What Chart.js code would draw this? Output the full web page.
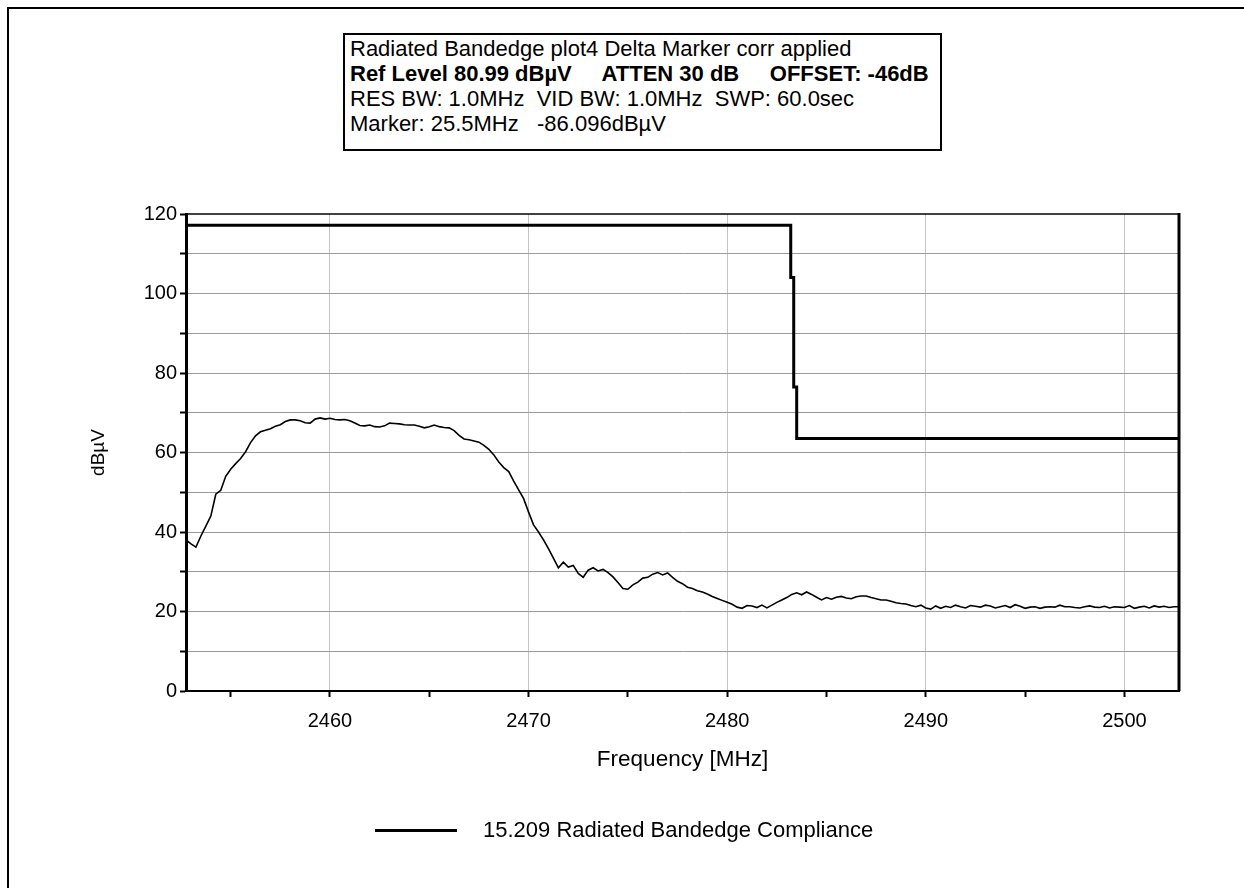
<!DOCTYPE html>
<html>
<head>
<meta charset="utf-8">
<title>Radiated Bandedge plot4</title>
<script src="https://cdn.jsdelivr.net/npm/chart.js@4"></script>
<style>
  html, body { margin: 0; padding: 0; background: #fff; }
  body { width: 1244px; height: 888px; position: relative; overflow: hidden;
         font-family: "Liberation Sans", Arial, sans-serif; color: #000; }
  #frame { position: absolute; left: 7px; top: 7px; width: 1300px; height: 950px;
           border-left: 2px solid #000; border-top: 2px solid #000; }
  #chartWrap { position: absolute; left: 0; top: 0; width: 1244px; height: 888px; }
  #infoBox { position: absolute; left: 343px; top: 33px; width: 590px; height: 113px;
             border: 2px solid #000; background: #fff; padding: 1px 0 0 5px; box-sizing: content-box;
             font-size: 22px; line-height: 25px; white-space: pre; }
  #infoBox .b { font-weight: bold; }
  #legend { position: absolute; left: 375px; top: 816px; height: 28px; display: flex; align-items: center;
            font-size: 22px; white-space: pre; }
  #legend .swatch { width: 82px; height: 3px; background: #000; margin-right: 26px; }
</style>
</head>
<body>
<div id="frame"></div>
<div id="chartWrap"><canvas id="myChart" width="1244" height="888"></canvas></div>
<div id="infoBox"><div>Radiated Bandedge plot4 Delta Marker corr applied</div><div class="b">Ref Level 80.99 dBµV     ATTEN 30 dB     OFFSET: -46dB</div><div>RES BW: 1.0MHz  VID BW: 1.0MHz  SWP: 60.0sec</div><div>Marker: 25.5MHz   -86.096dBµV</div></div>
<div id="legend"><div class="swatch"></div><span>15.209 Radiated Bandedge Compliance</span></div>
<script>
// analyzer sweep: 2452.75 .. 2502.75 MHz, one reading every 0.25 MHz
const sweepStart = 2452.75;
const sweepStop = 2502.75;
const sweepStep = 0.25;

// measured level, dBµV
const levels = [
  38.0, 37.0, 36.2, 39.0, 41.5, 44.0, 49.5, 50.5, 54.0, 55.8,
  57.2, 58.5, 60.2, 62.5, 64.2, 65.2, 65.6, 66.0, 66.6, 67.0,
  67.8, 68.2, 68.2, 68.0, 67.5, 67.4, 68.4, 68.7, 68.4, 68.6,
  68.3, 68.2, 68.3, 68.0, 67.4, 66.8, 66.7, 66.9, 66.5, 66.4,
  66.7, 67.4, 67.3, 67.2, 67.0, 66.9, 66.9, 66.6, 66.2, 66.5,
  66.9, 66.5, 66.3, 66.2, 65.5, 64.3, 63.4, 63.2, 62.9, 62.6,
  61.8, 60.8, 59.4, 57.6, 56.2, 55.2, 52.8, 50.6, 48.4, 45.0,
  41.8, 40.0, 38.0, 35.8, 33.4, 31.0, 32.4, 31.2, 31.6, 29.6,
  28.6, 30.4, 31.0, 30.2, 30.6, 29.8, 28.7, 27.3, 25.8, 25.6,
  26.7, 27.4, 28.4, 28.6, 29.4, 29.8, 29.2, 29.7, 28.6, 27.6,
  27.0, 26.1, 25.8, 25.2, 24.9, 24.4, 23.8, 23.3, 22.8, 22.3,
  21.8, 21.1, 20.8, 21.5, 21.4, 21.0, 21.6, 20.9, 21.6, 22.3,
  22.9, 23.5, 24.3, 24.7, 24.2, 24.9, 24.3, 23.6, 22.9, 23.5,
  23.1, 23.6, 23.8, 23.4, 23.2, 23.7, 23.9, 23.9, 23.5, 23.2,
  22.9, 22.9, 22.6, 22.2, 22.0, 21.9, 21.5, 21.2, 21.6, 20.9,
  20.6, 21.4, 20.8, 21.3, 21.0, 21.6, 21.2, 20.9, 21.5, 21.3,
  21.1, 21.6, 21.4, 20.9, 21.2, 21.5, 21.0, 21.7, 21.3, 20.8,
  21.1, 21.2, 20.8, 21.1, 21.2, 21.1, 21.6, 21.2, 21.2, 21.0,
  20.9, 21.2, 21.4, 21.1, 21.0, 21.3, 20.9, 21.2, 21.1, 21.0,
  21.5, 20.8, 21.1, 21.3, 20.9, 21.4, 21.1, 21.3, 21.0, 21.2,
  21.2
];

// 15.209 bandedge limit
const limitFreq = [2452.75, 2483.2, 2483.2, 2483.35, 2483.35, 2483.5, 2483.5, 2502.75];
const limitLevel = [117.2, 117.2, 104.0, 104.0, 76.5, 76.5, 63.5, 63.5];

const xTicks = [2455, 2460, 2465, 2470, 2475, 2480, 2485, 2490, 2495, 2500];
const xLabels = ['', '2460', '', '2470', '', '2480', '', '2490', '', '2500'];
const yTicks = [0, 10, 20, 30, 40, 50, 60, 70, 80, 90, 100, 110, 120];
const yLabels = ['0', '', '20', '', '40', '', '60', '', '80', '', '100', '', '120'];

const traceData = levels.map((v, i) => ({ x: sweepStart + i * sweepStep, y: v }));
const limitData = limitFreq.map((f, i) => ({ x: f, y: limitLevel[i] }));

const fontFamily = '"Liberation Sans", Arial, sans-serif';

// closes the plot box on the top and right
const frameEdges = {
  id: 'frameEdges',
  afterDatasetsDraw(chart) {
    const { ctx, chartArea: a } = chart;
    ctx.save();
    ctx.strokeStyle = '#000';
    ctx.lineWidth = 1.5;
    ctx.beginPath();
    ctx.moveTo(a.left, a.top);
    ctx.lineTo(a.right, a.top);
    ctx.stroke();
    ctx.lineWidth = 3;
    ctx.beginPath();
    ctx.moveTo(a.right, a.top - 1);
    ctx.lineTo(a.right, a.bottom);
    ctx.stroke();
    ctx.restore();
  }
};

const ctx = document.getElementById('myChart').getContext('2d');
const myChart = new Chart(ctx, {
  type: 'line',
  data: {
    datasets: [
      {
        label: '15.209 Radiated Bandedge Compliance',
        data: limitData,
        borderColor: '#000',
        borderWidth: 3,
        pointRadius: 0,
        tension: 0
      },
      {
        label: 'Trace',
        data: traceData,
        borderColor: '#000',
        borderWidth: 1.6,
        pointRadius: 0,
        tension: 0
      }
    ]
  },
  options: {
    responsive: false,
    animation: false,
    layout: { padding: { left: 0, top: 214, right: 65, bottom: 107 } },
    plugins: {
      legend: { display: false },
      tooltip: { enabled: false }
    },
    scales: {
      x: {
        type: 'linear',
        min: sweepStart,
        max: sweepStop,
        afterBuildTicks: s => { s.ticks = xTicks.map(v => ({ value: v })); },
        afterFit: s => { s.height = 90; },
        ticks: {
          autoSkip: false,
          maxRotation: 0,
          padding: 12,
          color: '#000',
          font: { family: fontFamily, size: 20 },
          callback: v => xLabels[xTicks.indexOf(v)]
        },
        grid: {
          color: c => (c.tick && c.tick.value % 10 === 0) ? '#c4c4c4' : 'rgba(0,0,0,0)',
          lineWidth: 1,
          tickColor: '#000',
          tickWidth: 2,
          tickLength: 6
        },
        border: { color: '#000', width: 2 },
        title: {
          display: true,
          text: 'Frequency [MHz]',
          color: '#000',
          font: { family: fontFamily, size: 22.5 },
          padding: { top: 0, bottom: 8 }
        }
      },
      y: {
        min: 0,
        max: 120,
        afterBuildTicks: s => { s.ticks = yTicks.map(v => ({ value: v })); },
        afterFit: s => { s.width = 186; },
        ticks: {
          padding: 3,
          color: '#000',
          font: { family: fontFamily, size: 20 },
          callback: v => yLabels[yTicks.indexOf(v)]
        },
        grid: {
          color: c => (c.tick && (c.tick.value === 0 || c.tick.value === 120)) ? 'rgba(0,0,0,0)' : '#9a9a9a',
          lineWidth: 1,
          tickColor: '#000',
          tickWidth: 2,
          tickLength: 6
        },
        border: { color: '#000', width: 3 },
        title: {
          display: true,
          text: 'dBµV',
          color: '#000',
          font: { family: fontFamily, size: 19 },
          padding: { top: 87, bottom: 0 }
        }
      }
    }
  },
  plugins: [frameEdges]
});
</script>
</body>
</html>
